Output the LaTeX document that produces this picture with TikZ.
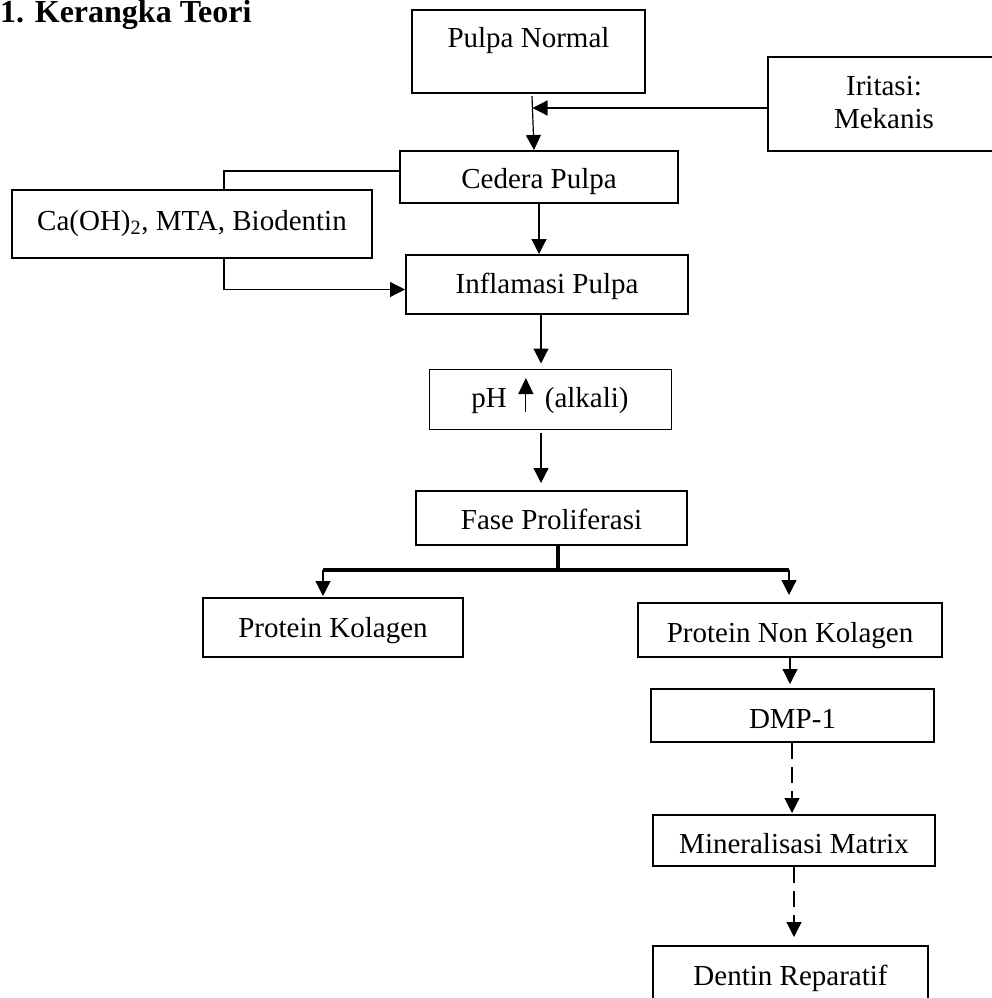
\documentclass[tikz,border=0pt]{standalone}
\usepackage{fontspec}
\setmainfont{Liberation Serif}
\usetikzlibrary{arrows.meta}

\begin{document}
\begin{tikzpicture}[x=1pt, y=-1pt,
  every node/.style={inner sep=0pt, font=\fontsize{29}{33}\selectfont},
  box/.style={draw, line width=2pt, text depth=10pt},
  arr/.style={line width=1.2pt, -{Triangle[length=15pt, width=15pt]}},
  dasharr/.style={arr, dash pattern=on 16pt off 8pt},
  forkline/.style={line width=3.8pt}]
  \useasboundingbox (0,0) rectangle (992,998);
  \clip (0,0) rectangle (992,998);

  \node (title) [anchor=base west, font=\fontsize{32}{36}\selectfont\bfseries] at (0,22.5) {1. Kerangka Teori};

  \node (pulpa) [box, minimum width=233pt, minimum height=83pt, text height=3pt] at (528.5,51.5) {Pulpa Normal};
  \node (iritasi) [box, minimum width=232pt, minimum height=94pt, text height=22pt, text depth=40pt] at (884,104)
    {\begin{tabular}[t]{@{}c@{}}Iritasi:\\Mekanis\end{tabular}};
  \node (cedera) [box, minimum width=278pt, minimum height=52pt, text height=32pt] at (539,177) {Cedera Pulpa};
  \node (ca) [box, minimum width=360pt, minimum height=68pt, text height=22pt] at (192,224) {Ca(OH)\textsubscript{2}, MTA, Biodentin};
  \node (inflamasi) [box, minimum width=282pt, minimum height=59pt, text height=27pt] at (547,284.5) {Inflamasi Pulpa};
  \node (ph) [box, line width=1pt, minimum width=242pt, minimum height=60pt, text height=26pt] at (550,399)
    {pH\hspace{11.5pt}\tikz[x=1pt, y=1pt, baseline=0pt]{\useasboundingbox (-7.5,-5) rectangle (7.5,29);
      \draw[line width=1.1pt, -{Triangle[length=16pt, width=15pt]}] (0,-5) -- (0,29);}\hspace{11.5pt}(alkali)};
  \node (fase) [box, minimum width=271pt, minimum height=54pt, text height=32pt] at (551.5,518) {Fase Proliferasi};
  \node (pk) [box, minimum width=260pt, minimum height=59pt, text height=29pt] at (333,627.5) {Protein Kolagen};
  \node (pnk) [box, minimum width=304pt, minimum height=54pt, text height=34pt] at (790,630) {Protein Non Kolagen};
  \node (dmp) [box, minimum width=283pt, minimum height=53pt, text height=35pt] at (792.5,715.5) {DMP-1};
  \node (min) [box, minimum width=282pt, minimum height=51pt, text height=35pt] at (794,840.5) {Mineralisasi Matrix};
  \node (dentin) [box, minimum width=275pt, minimum height=64pt, text height=24pt] at (790.5,978) {Dentin Reparatif};

  \coordinate (join) at (532.5,108);
  \coordinate (fork) at (558,570);
  \coordinate (forkL) at (323,570);
  \coordinate (forkR) at (789,570);

  \draw[arr] ([xshift=3.5pt, yshift=-2pt]pulpa.south) -- ([xshift=-5pt]cedera.north);
  \draw[arr] ([yshift=-4pt]iritasi.west) -- (join);
  \draw[line width=1.2pt] ([yshift=6pt]cedera.west) -| ([xshift=32pt]ca.north);
  \draw[arr] ([xshift=32pt]ca.south) |- ([yshift=-5pt]inflamasi.west);
  \draw[arr] (cedera.south) -- (cedera.south |- inflamasi.north);
  \draw[arr] ([xshift=-6pt]inflamasi.south) -- ([xshift=-9pt, yshift=5pt]ph.north);
  \draw[arr] ([xshift=-9pt, yshift=-3pt]ph.south) -- ([xshift=-10.5pt, yshift=7pt]fase.north);
  \draw[forkline] (fase.south -| fork) -- (fork);
  \draw[forkline] (forkL) -- (forkR);
  \draw[arr] (forkL) -- ([yshift=1pt]pk.north -| forkL);
  \draw[arr] (forkR) -- ([yshift=7pt]pnk.north -| forkR);
  \draw[arr] (pnk.south) -- ([yshift=4pt]dmp.north -| pnk.south);
  \draw[dasharr] ([xshift=-0.5pt]dmp.south) -- ([xshift=-2pt, yshift=1pt]min.north);
  \draw[dasharr] (min.south) -- ([yshift=8pt]dentin.north -| min.south);
\end{tikzpicture}
\end{document}
